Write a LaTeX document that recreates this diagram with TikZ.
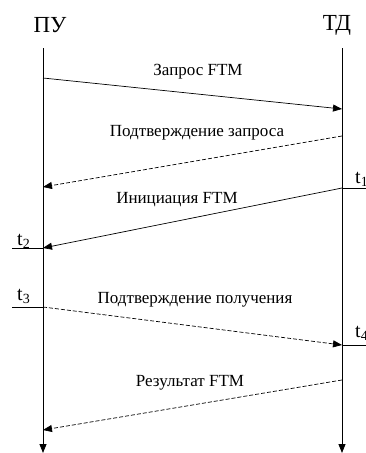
\documentclass[tikz,border=0pt]{standalone}
\usepackage{fontspec}
\setmainfont{Liberation Serif}
\usetikzlibrary{arrows.meta}
\begin{document}
\begin{tikzpicture}[x=1pt,y=-1pt,
  life/.style={line width=0.8pt,-{Triangle[length=9pt,width=7pt]}},
  msg/.style={line width=0.7pt,-{Triangle[length=9pt,width=7pt]}},
  dmsg/.style={msg,dash pattern=on 4pt off 2pt},
  lbl/.style={font=\fontsize{17}{19}\selectfont,inner sep=0pt},
  head/.style={font=\fontsize{23}{26}\selectfont,inner sep=0pt},
  tl/.style={font=\fontsize{20}{22}\selectfont,inner sep=0pt,anchor=base west},
  tick/.style={line width=0.8pt}]
\useasboundingbox (0,0) rectangle (366,453);
\clip (0,0) rectangle (366,453);
\node[head] (PU) at (50,25) {ПУ};
\node[head] (TD) at (337,25) {ТД};
% lifelines
\coordinate (Ltop) at (43,48);
\coordinate (Lbot) at (43,453);
\coordinate (Rtop) at (342,48);
\coordinate (Rbot) at (342,453);
\draw[life] (Ltop) -- (Lbot);
\draw[life] (Rtop) -- (Rbot);
% message points
\coordinate (a1) at (43,78);   \coordinate (b1) at (342,109);
\coordinate (a2) at (342,136); \coordinate (b2) at (43,187);
\coordinate (a3) at (342,188); \coordinate (b3) at (43,248);
\coordinate (a4) at (43,307);  \coordinate (b4) at (342,345);
\coordinate (a5) at (342,380); \coordinate (b5) at (43,430);
\draw[msg] (a1) -- (b1);
\draw[dmsg] (a2) -- (b2);
\draw[msg] (a3) -- (b3);
\draw[dmsg] (a4) -- (b4);
\draw[dmsg] (a5) -- (b5);
\node[lbl] (m1) at (198,72) {Запрос FTM};
\node[lbl] (m2) at (197,133) {Подтверждение запроса};
\node[lbl] (m3) at (177,200) {Инициация FTM};
\node[lbl] (m4) at (195,300) {Подтверждение получения};
\node[lbl] (m5) at (190,383) {Результат FTM};
% time marks
\coordinate (e1) at (366,188); \draw[tick] (a3) -- (e1);
\coordinate (e2) at (12,248);  \draw[tick] (e2) -- (b3);
\coordinate (e3) at (12,307);  \draw[tick] (e3) -- (a4);
\coordinate (e4) at (366,345); \draw[tick] (b4) -- (e4);
\node[tl] (t1) at (355,183) {t\textsubscript{1}};
\node[tl] (t2) at (17,245) {t\textsubscript{2}};
\node[tl] (t3) at (17,300) {t\textsubscript{3}};
\node[tl] (t4) at (355,337) {t\textsubscript{4}};
\end{tikzpicture}
\end{document}
